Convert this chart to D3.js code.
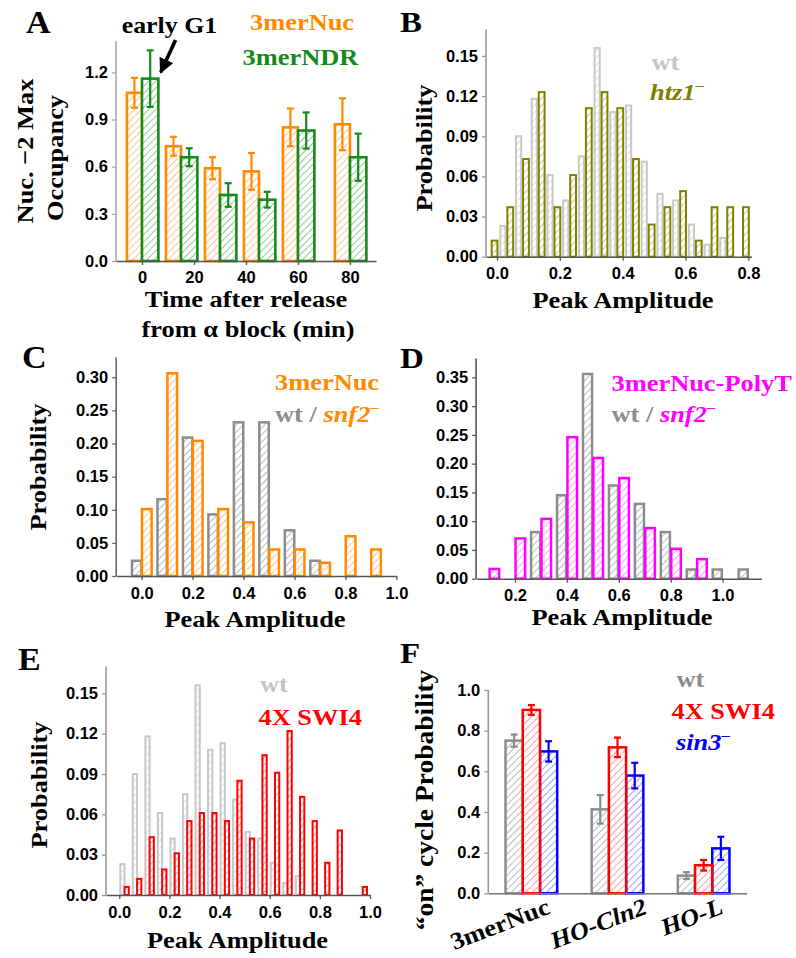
<!DOCTYPE html>
<html><head><meta charset="utf-8">
<script src="https://cdn.jsdelivr.net/npm/d3@7"></script>
<style>body{margin:0;background:#fff}svg{display:block}</style>
</head><body>
<svg id="fig" width="796" height="958"></svg>
<script>
// ---------- DATA ----------
// Panel A
const timeA = [0, 15, 30, 45, 60, 80];
const nucOcc = [1.07, 0.73, 0.59, 0.57, 0.85, 0.87];
const nucErr = [0.095, 0.06, 0.07, 0.117, 0.12, 0.165];
const ndrOcc = [1.16, 0.66, 0.42, 0.39, 0.83, 0.66];
const ndrErr = [0.18, 0.057, 0.075, 0.05, 0.115, 0.15];
const yTicksA = [0, 0.3, 0.6, 0.9, 1.2];
const xTicksA = [0, 20, 40, 60, 80];
// Panels B & E: wt histogram
const wtBins = [0.03,0.08,0.13,0.18,0.23,0.28,0.33,0.38,0.43,0.48,0.53,0.58,0.63,0.68,0.73];
const wtProb = [0.023,0.090,0.118,0.061,0.042,0.075,0.156,0.108,0.113,0.071,0.047,0.042,0.024,0.009,0.014];
// Panel B: htz1-
const htzBins = [-0.02,0.03,0.08,0.13,0.18,0.23,0.28,0.33,0.38,0.43,0.48,0.53,0.58,0.63,0.68,0.73,0.78];
const htzProb = [0.012,0.037,0.073,0.123,0.037,0.061,0.111,0.123,0.111,0.073,0.024,0.037,0.049,0.012,0.037,0.037,0.037];
const yTicksB = [0, 0.03, 0.06, 0.09, 0.12, 0.15];
const xTicksB = [0, 0.2, 0.4, 0.6, 0.8];
// Panel C
const wtBinsC = [0,0.1,0.2,0.3,0.4,0.5,0.6,0.7];
const wtProbC = [0.023,0.116,0.209,0.093,0.232,0.232,0.069,0.023];
const snfBinsC = [0,0.1,0.2,0.3,0.4,0.5,0.6,0.7,0.8,0.9];
const snfProbC = [0.101,0.306,0.204,0.101,0.081,0.040,0.040,0.020,0.060,0.040];
const yTicksC = [0,0.05,0.10,0.15,0.20,0.25,0.30];
const xTicksC = [0,0.2,0.4,0.6,0.8,1.0];
// Panel D
const wtBinsD = [0.3,0.4,0.5,0.6,0.7,0.8,0.9,1.0,1.1];
const wtProbD = [0.081,0.145,0.356,0.162,0.130,0.081,0.016,0.016,0.016];
const polyBinsD = [0.1,0.2,0.3,0.4,0.5,0.6,0.7,0.8,0.9];
const polyProbD = [0.017,0.070,0.104,0.246,0.210,0.175,0.088,0.052,0.034];
const yTicksD = [0,0.05,0.10,0.15,0.20,0.25,0.30,0.35];
const xTicksD = [0.2,0.4,0.6,0.8,1.0];
// Panel E: 4X SWI4
const swiBins = [0.03,0.08,0.13,0.18,0.23,0.28,0.33,0.38,0.43,0.48,0.53,0.58,0.63,0.68,0.73,0.78,0.83,0.88,0.98];
const swiProb = [0.006,0.012,0.043,0.019,0.031,0.055,0.061,0.061,0.055,0.085,0.042,0.104,0.091,0.122,0.073,0.055,0.024,0.048,0.006];
const yTicksE = [0, 0.03, 0.06, 0.09, 0.12, 0.15];
const xTicksE = [0,0.2,0.4,0.6,0.8,1.0];
// Panel F
const groupsF = ["3merNuc", "HO-Cln2", "HO-L"];
const wtF = [0.751, 0.413, 0.087];
const wtErrF = [0.03, 0.07, 0.017];
const swiF = [0.902, 0.718, 0.138];
const swiErrF = [0.024, 0.048, 0.026];
const sinF = [0.698, 0.579, 0.221];
const sinErrF = [0.05, 0.063, 0.057];
const yTicksF = [0,0.2,0.4,0.6,0.8,1.0];

// ---------- STYLE ----------
const SERIF = "'Liberation Serif','Times New Roman',serif";
const SANS = "'Liberation Sans',Arial,sans-serif";
const STRETCH = 1.1;
const C = {
  orange:"#ff8a00", green:"#15891a", olive:"#808000", magenta:"#ff00ff",
  red:"#ff0000", blue:"#0000ff", ltgrey:"#c8c8c8", grey:"#8c8c8c"
};
const svg = d3.select("#fig");
const defs = svg.append("defs");
function hatch(id, color, sp) {
  sp = sp || 5;
  const p = defs.append("pattern").attr("id", id).attr("patternUnits","userSpaceOnUse")
    .attr("width", sp).attr("height", sp).attr("patternTransform","rotate(45)");
  p.append("rect").attr("width", sp).attr("height", sp).attr("fill","#fff");
  p.append("line").attr("x1", sp/2).attr("x2", sp/2).attr("y1", 0).attr("y2", sp)
    .attr("stroke", color).attr("stroke-width", 1);
}
hatch("hOrange","#ffc58c"); hatch("hGreen","#94c994"); hatch("hOlive","#cccc80");
hatch("hLtgrey","#dedede"); hatch("hGrey","#bcbcbc"); hatch("hMagenta","#ff9cff");
hatch("hRed","#ff9c9c"); hatch("hBlue","#a0a0ff");

function txt(x, y, s, o) {
  o = o || {};
  const t = svg.append("text").attr("x", x).attr("y", y)
    .attr("font-family", o.family || SERIF).attr("font-weight","bold")
    .attr("font-size", o.size || 24).attr("fill", o.color || "#000")
    .attr("text-anchor", o.anchor || "start");
  if (o.italic) t.attr("font-style","italic");
  if (o.transform) t.attr("transform", o.transform).attr("x", 0).attr("y", 0);
  t.text(s);
  return t;
}
function stretch(t) {
  const L = t.node().getComputedTextLength();
  t.attr("textLength", L * STRETCH).attr("lengthAdjust", "spacingAndGlyphs");
  return t;
}
function supMinus(t, color) {
  t.append("tspan").attr("font-size", 15).attr("dy", -10).attr("font-style","normal")
    .attr("fill", color).text("\u2013");
  return t;
}
function rotTitle(x, y, s, size) {
  return stretch(txt(0, 0, s, {anchor:"middle", size: size || 24, transform:`translate(${x},${y}) rotate(-90)`}));
}
function axes(x, y, o) {
  const ya = d3.axisLeft(y).tickValues(o.yTicks).tickFormat(d3.format(o.yFmt))
    .tickSize(4).tickSizeOuter(0).tickPadding(4);
  const gy = svg.append("g").attr("transform", `translate(${x.range()[0]},0)`).call(ya);
  styleAxis(gy, o.yColor || "#999");
  gy.select(".domain").attr("d", `M0,${y.range()[0]}V${y.range()[1]}`);
  const xa = d3.axisBottom(x).tickValues(o.xTicks || []).tickFormat(d3.format(o.xFmt || "d"))
    .tickSize(o.xTicks ? 4 : 0).tickSizeOuter(0).tickPadding(o.xPad || 7);
  const gx = svg.append("g").attr("transform", `translate(0,${y.range()[0]})`).call(xa);
  styleAxis(gx, o.xColor || "#555");
}
function styleAxis(g, color) {
  g.select(".domain").attr("stroke", color).attr("stroke-width", 1.6);
  g.selectAll(".tick line").attr("stroke", color).attr("stroke-width", 1.3);
  g.selectAll(".tick text").attr("font-family", SANS).attr("font-weight","bold")
    .attr("font-size", 16.5).attr("fill","#000");
}
function bars(x, y, centers, vals, o) {
  svg.append("g").selectAll("rect").data(vals).join("rect")
    .attr("x", (d,i) => x(centers[i] + o.x0))
    .attr("width", (d,i) => x(centers[i] + o.x1) - x(centers[i] + o.x0))
    .attr("y", d => y(d)).attr("height", d => y(0) - y(d))
    .attr("fill", `url(#${o.hatch})`).attr("stroke", o.color).attr("stroke-width", o.sw || 2);
}
function errs(x, y, centers, vals, es, o) {
  const g = svg.append("g").attr("stroke", o.color).attr("stroke-width", o.sw || 2);
  vals.forEach((v, i) => {
    const cx = x(centers[i] + o.mid);
    const y1 = y(v + es[i]), y2 = y(v - es[i]);
    g.append("line").attr("x1", cx).attr("x2", cx).attr("y1", y1).attr("y2", y2);
    g.append("line").attr("x1", cx-3.5).attr("x2", cx+3.5).attr("y1", y1).attr("y2", y1);
    g.append("line").attr("x1", cx-3.5).attr("x2", cx+3.5).attr("y1", y2).attr("y2", y2);
  });
}

// ---------- PANEL A ----------
const xA = d3.scaleLinear([-10, 90], [116, 376]);
const yA = d3.scaleLinear([0, 1.4], [261, 40.9]);
bars(xA, yA, timeA, nucOcc, {x0:-5.8, x1:0, hatch:"hOrange", color:C.orange, sw:2.6});
bars(xA, yA, timeA, ndrOcc, {x0:0, x1:6.3, hatch:"hGreen", color:C.green, sw:2.6});
errs(xA, yA, timeA, nucOcc, nucErr, {mid:-2.9, color:C.orange, sw:2.2});
errs(xA, yA, timeA, ndrOcc, ndrErr, {mid:3.15, color:C.green, sw:2.2});
axes(xA, yA, {yTicks:yTicksA, yFmt:".1f", xTicks:xTicksA, xFmt:"d", yColor:"#aaa", xColor:"#555", xPad:6});
stretch(txt(26, 33, "A", {size:31}));
stretch(txt(121.7, 33, "early G1", {size:23.5}));
stretch(txt(250, 29.5, "3merNuc", {color:C.orange}));
stretch(txt(242.5, 64.5, "3merNDR", {color:C.green}));
defs.append("marker").attr("id","arrow").attr("viewBox","0 0 10 10").attr("refX",9).attr("refY",5)
  .attr("markerWidth",4.2).attr("markerHeight",4.2).attr("orient","auto-start-reverse").attr("markerUnits","strokeWidth")
  .append("path").attr("d","M0,0L10,5L0,10Z").attr("fill","#000");
svg.append("line").attr("x1", xA(12.9)).attr("y1", yA(1.405)).attr("x2", xA(7.2)).attr("y2", yA(1.2))
  .attr("stroke","#000").attr("stroke-width",3.6).attr("marker-end","url(#arrow)");
rotTitle(33, 151, "Nuc. \u22122 Max");
rotTitle(63, 158, "Occupancy");
stretch(txt(246, 307, "Time after release", {anchor:"middle"}));
stretch(txt(248, 337, "from \u03b1 block (min)", {anchor:"middle"}));

// ---------- PANEL B ----------
const xB = d3.scaleLinear([-0.035, 0.81], [486, 751.5]);
const yB = d3.scaleLinear([0, 0.17], [256.7, 29.2]);
bars(xB, yB, wtBins, wtProb, {x0:-0.0195, x1:-0.003, hatch:"hLtgrey", color:C.ltgrey, sw:2});
bars(xB, yB, htzBins, htzProb, {x0:0.003, x1:0.0215, hatch:"hOlive", color:C.olive, sw:2});
axes(xB, yB, {yTicks:yTicksB, yFmt:".2f", xTicks:xTicksB, xFmt:".1f", yColor:"#999", xColor:"#555"});
stretch(txt(400, 32, "B", {size:30}));
stretch(txt(651.5, 70, "wt", {color:"#c4c4c4"}));
stretch(supMinus(txt(650, 100, "htz1", {color:C.olive, italic:true}), C.olive));
rotTitle(432, 148, "Probability");
stretch(txt(623, 308, "Peak Amplitude", {anchor:"middle"}));

// ---------- PANEL C ----------
const xC = d3.scaleLinear([-0.1, 1.0], [116.2, 396.4]);
const yC = d3.scaleLinear([0, 0.33], [576, 357.4]);
bars(xC, yC, wtBinsC, wtProbC, {x0:-0.038, x1:-0.001, hatch:"hGrey", color:C.grey, sw:2.5});
bars(xC, yC, snfBinsC, snfProbC, {x0:0.001, x1:0.039, hatch:"hOrange", color:C.orange, sw:2.5});
axes(xC, yC, {yTicks:yTicksC, yFmt:".2f", xTicks:xTicksC, xFmt:".1f", yColor:"#666", xColor:"#555"});
stretch(txt(22, 368, "C", {size:31}));
stretch(txt(275, 390, "3merNuc", {color:C.orange}));
{
  const t = txt(275, 421.5, "wt / ", {color:C.grey});
  t.append("tspan").attr("fill", C.orange).attr("font-style","italic").text("snf2");
  stretch(supMinus(t, C.orange));
}
rotTitle(46, 467, "Probability");
stretch(txt(255, 626.5, "Peak Amplitude", {anchor:"middle"}));

// ---------- PANEL D ----------
const xD = d3.scaleLinear([0.05, 1.15], [476.1, 761.5]);
const yD = d3.scaleLinear([0, 0.383], [578.7, 358.4]);
bars(xD, yD, wtBinsD, wtProbD, {x0:-0.038, x1:-0.003, hatch:"hGrey", color:C.grey, sw:2.5});
bars(xD, yD, polyBinsD, polyProbD, {x0:0.002, x1:0.039, hatch:"hMagenta", color:C.magenta, sw:2.5});
axes(xD, yD, {yTicks:yTicksD, yFmt:".2f", xTicks:xTicksD, xFmt:".1f", yColor:"#555", xColor:"#555"});
stretch(txt(400, 368, "D", {size:30}));
stretch(txt(611.5, 390.5, "3merNuc-PolyT", {color:C.magenta}));
{
  const t = txt(611.5, 421.5, "wt / ", {color:C.grey});
  t.append("tspan").attr("fill", C.magenta).attr("font-style","italic").text("snf2");
  stretch(supMinus(t, C.magenta));
}
stretch(txt(622, 625, "Peak Amplitude", {anchor:"middle"}));

// ---------- PANEL E ----------
const xE = d3.scaleLinear([-0.053, 1.0], [106, 370]);
const yE = d3.scaleLinear([0, 0.17], [895, 666.5]);
bars(xE, yE, wtBins, wtProb, {x0:-0.026, x1:-0.009, hatch:"hLtgrey", color:C.ltgrey, sw:2});
bars(xE, yE, swiBins, swiProb, {x0:-0.009, x1:0.008, hatch:"hRed", color:C.red, sw:2});
axes(xE, yE, {yTicks:yTicksE, yFmt:".2f", xTicks:xTicksE, xFmt:".1f", yColor:"#999", xColor:"#555"});
stretch(txt(18, 670, "E", {size:31}));
stretch(txt(260, 691.5, "wt", {color:"#c4c4c4"}));
stretch(txt(258.5, 724.5, "4X SWI4", {color:C.red}));
rotTitle(46.5, 785, "Probability");
stretch(txt(237.5, 948, "Peak Amplitude", {anchor:"middle"}));

// ---------- PANEL F ----------
const idxF = groupsF.map((d, i) => i);
const xF = d3.scaleLinear([-0.5, 2.5], [488.3, 746.7]);
const yF = d3.scaleLinear([0, 1.0], [893.3, 690]);
bars(xF, yF, idxF, wtF, {x0:-0.3, x1:-0.1, hatch:"hGrey", color:C.grey, sw:2.5});
bars(xF, yF, idxF, sinF, {x0:0.1, x1:0.3, hatch:"hBlue", color:C.blue, sw:2.5});
bars(xF, yF, idxF, swiF, {x0:-0.1, x1:0.1, hatch:"hRed", color:C.red, sw:2.5});
errs(xF, yF, idxF, wtF, wtErrF, {mid:-0.2, color:C.grey, sw:2.2});
errs(xF, yF, idxF, swiF, swiErrF, {mid:0, color:C.red, sw:2.2});
errs(xF, yF, idxF, sinF, sinErrF, {mid:0.2, color:C.blue, sw:2.2});
axes(xF, yF, {yTicks:yTicksF, yFmt:".1f", xTicks:null, yColor:"#999", xColor:"#777"});
stretch(txt(400, 663, "F", {size:30}));
stretch(txt(676.5, 686.5, "wt", {color:C.grey}));
stretch(txt(671.5, 719, "4X SWI4", {color:C.red}));
stretch(supMinus(txt(676, 750, "sin3", {color:C.blue, italic:true}), C.blue));
rotTitle(433, 800, "\u201con\u201d cycle Probability", 25);
const labDx = [20, 31, 21];
groupsF.forEach((g, i) => {
  stretch(txt(0, 0, g, {size:24, anchor:"end", italic: i > 0,
    transform:`translate(${xF(i) + labDx[i]},${913}) rotate(-21)`}));
});
</script>
</body></html>
